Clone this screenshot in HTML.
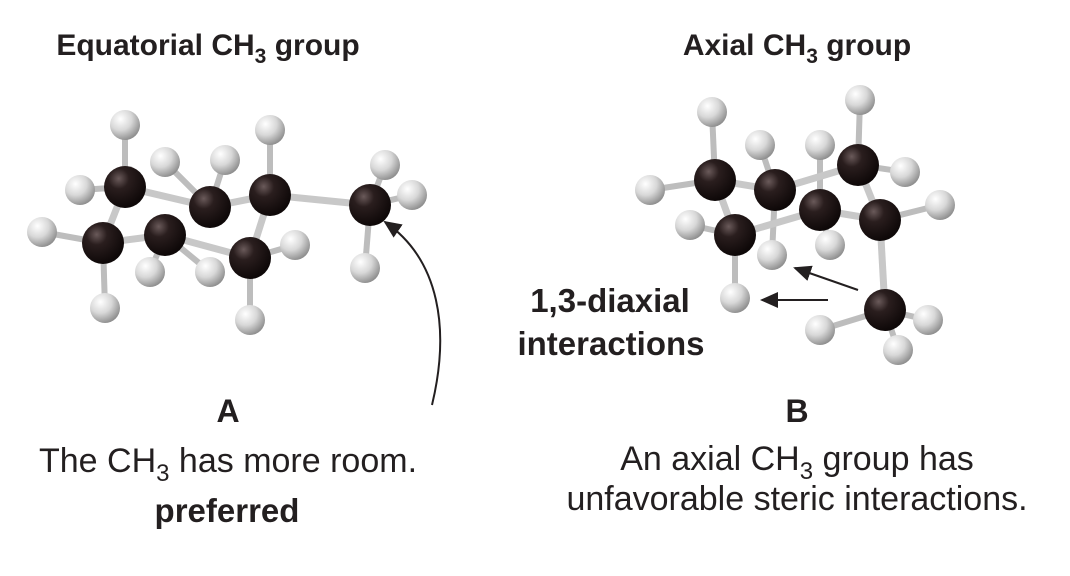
<!DOCTYPE html>
<html><head><meta charset="utf-8"><style>
html,body{margin:0;padding:0;background:#fff;}
svg{display:block;}
text{font-family:"Liberation Sans",sans-serif;fill:#231f20;}
</style></head><body>
<svg width="1070" height="576" viewBox="0 0 1070 576">
<defs>
<radialGradient id="cg" cx="0.35" cy="0.3" r="0.7"><stop offset="0" stop-color="#6a5a5a"/><stop offset="0.35" stop-color="#2a1e1e"/><stop offset="1" stop-color="#0e0808"/></radialGradient>
<radialGradient id="hg" cx="0.35" cy="0.3" r="0.75"><stop offset="0" stop-color="#ffffff"/><stop offset="0.5" stop-color="#d8d8d8"/><stop offset="1" stop-color="#8a8a8a"/></radialGradient>
<marker id="ah" markerWidth="10" markerHeight="10" refX="8" refY="5" orient="auto"><path d="M0,1 L9,5 L0,9 Z" fill="#231f20"/></marker>
</defs>
<text x="208" y="55" font-size="30" font-weight="bold" text-anchor="middle">Equatorial CH<tspan font-size="21" dy="8">3</tspan><tspan dy="-8"> group</tspan></text>
<text x="797" y="55" font-size="30" font-weight="bold" text-anchor="middle">Axial CH<tspan font-size="21" dy="8">3</tspan><tspan dy="-8"> group</tspan></text>
<g id="molA"></g>
<g id="molB"></g>
<path d="M432,405 C450,330 440,260 385,222" fill="none" stroke="#231f20" stroke-width="2" marker-end="url(#ah)"/>
<line x1="858" y1="290" x2="795" y2="268" stroke="#231f20" stroke-width="2" marker-end="url(#ah)"/>
<line x1="828" y1="300" x2="762" y2="300" stroke="#231f20" stroke-width="2" marker-end="url(#ah)"/>
<text x="610" y="312" font-size="33" font-weight="bold" text-anchor="middle">1,3-diaxial</text>
<text x="611" y="355" font-size="33" font-weight="bold" text-anchor="middle">interactions</text>
<text x="228" y="422" font-size="32" font-weight="bold" text-anchor="middle">A</text>
<text x="228" y="472" font-size="34" text-anchor="middle">The CH<tspan font-size="24" dy="9">3</tspan><tspan dy="-9"> has more room.</tspan></text>
<text x="227" y="522" font-size="33" font-weight="bold" text-anchor="middle">preferred</text>
<text x="797" y="422" font-size="32" font-weight="bold" text-anchor="middle">B</text>
<text x="797" y="470" font-size="34" text-anchor="middle">An axial CH<tspan font-size="24" dy="9">3</tspan><tspan dy="-9"> group has</tspan></text>
<text x="797" y="510" font-size="34" text-anchor="middle">unfavorable steric interactions.</text>
</svg>
<script>
const NS='http://www.w3.org/2000/svg';
const carbonsA=[[125,187],[103,243],[165,235],[210,207],[270,195],[250,258],[370,205]];
const hydA=[[125,125],[80,190],[42,232],[105,308],[150,272],[165,162],[225,160],[270,130],[210,272],[250,320],[295,245],[385,165],[412,195],[365,268]];
const bondsA=[[1,2],[2,5],[5,4],[4,3],[3,0],[0,1],[4,6]];
const hbA=[[0,0],[0,1],[1,2],[1,3],[2,4],[3,5],[3,6],[4,7],[2,8],[5,9],[5,10],[6,11],[6,12],[6,13]];
const carbonsB=[[715,180],[735,235],[775,190],[820,210],[858,165],[880,220],[885,310]];
const hydB=[[712,112],[650,190],[690,225],[735,298],[772,255],[760,145],[820,145],[860,100],[905,172],[940,205],[830,245],[820,330],[928,320],[898,350]];
const bondsB=[[0,2],[2,4],[4,5],[5,3],[3,1],[1,0],[5,6]];
const hbB=[[0,0],[0,1],[1,2],[1,3],[2,4],[2,5],[3,6],[4,7],[4,8],[5,9],[3,10],[6,11],[6,12],[6,13]];
function mk(t,a){const e=document.createElementNS(NS,t);for(const k in a)e.setAttribute(k,a[k]);return e;}
function draw(g,C,H,B,HB){
  HB.forEach(([c,h])=>{const l=mk('line',{x1:C[c][0],y1:C[c][1],x2:H[h][0],y2:H[h][1],stroke:'#bdbdbd','stroke-width':6});
    
    g.appendChild(l);});
  B.forEach(([a,b])=>{const l=mk('line',{x1:C[a][0],y1:C[a][1],x2:C[b][0],y2:C[b][1],stroke:'#c8c8c8','stroke-width':7});
    
    g.appendChild(l);});
  H.forEach(([x,y])=>{const c=mk('circle',{cx:x,cy:y,r:15,fill:'url(#hg)'});
    
    g.appendChild(c);});
  C.forEach(([x,y])=>{const c=mk('circle',{cx:x,cy:y,r:21,fill:'url(#cg)'});
    
    g.appendChild(c);});
}
draw(document.getElementById('molA'),carbonsA,hydA,bondsA,hbA);
draw(document.getElementById('molB'),carbonsB,hydB,bondsB,hbB);
</script>
</body></html>
